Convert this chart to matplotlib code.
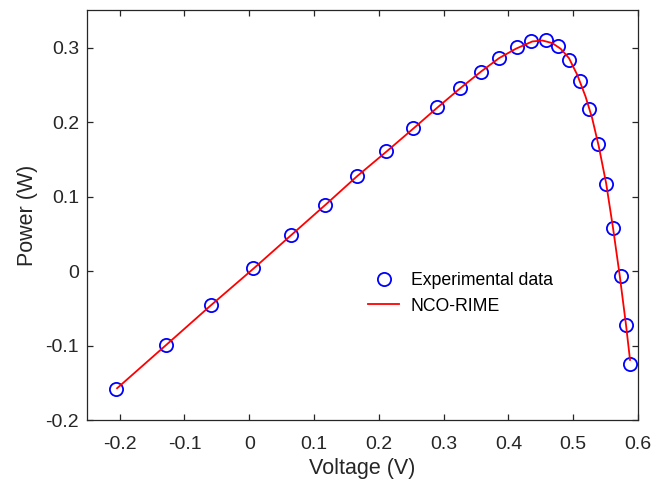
import matplotlib
matplotlib.use("Agg")
import matplotlib.pyplot as plt

plt.rcParams['font.family'] = ['Liberation Sans', 'DejaVu Sans']

# Experimental data
v_exp = [-0.2055, -0.129, -0.0589, 0.0052, 0.0642, 0.1175, 0.1665, 0.2118, 0.2534,
         0.2905, 0.3257, 0.358, 0.3862, 0.4129, 0.4354, 0.4575, 0.4765, 0.4938,
         0.5098, 0.5246, 0.5375, 0.5503, 0.5611, 0.5734, 0.5811, 0.5883]
p_exp = [-0.1576, -0.099, -0.0452, 0.004, 0.0491, 0.0894, 0.1278, 0.1612, 0.1920,
         0.2205, 0.2458, 0.2678, 0.2859, 0.3011, 0.3087, 0.3105, 0.3024, 0.2836,
         0.2554, 0.2174, 0.1705, 0.1172, 0.0577, -0.0063, -0.0725, -0.1240]

# NCO-RIME model curve
v_mod = [-0.2040, -0.129, -0.0589, 0.0052, 0.0642, 0.1175, 0.1665, 0.2118, 0.2534,
         0.2903, 0.3257, 0.358, 0.3857, 0.4114, 0.4369, 0.4523, 0.4677, 0.4806,
         0.4934, 0.5062, 0.519, 0.5292, 0.5395, 0.5508, 0.5615, 0.5718, 0.5815, 0.5877]
p_mod = [-0.1570, -0.0995, -0.0455, 0.0025, 0.0480, 0.0890, 0.1275, 0.1605, 0.1915,
         0.2195, 0.2455, 0.2680, 0.2859, 0.2984, 0.3082, 0.3095, 0.3060, 0.2984,
         0.2859, 0.2635, 0.2344, 0.2054, 0.1673, 0.1181, 0.0577, -0.0059, -0.0721, -0.1190]

xticks = [-0.2, -0.1, 0, 0.1, 0.2, 0.3, 0.4, 0.5, 0.6]
xticklabels = ['-0.2', '-0.1', '0', '0.1', '0.2', '0.3', '0.4', '0.5', '0.6']
yticks = [-0.2, -0.1, 0, 0.1, 0.2, 0.3]
yticklabels = ['-0.2', '-0.1', '0', '0.1', '0.2', '0.3']

fig = plt.figure(figsize=(6.64, 4.82), dpi=100)
L, R, T, B = 87.3, 638.0, 10.3, 420.3
ax = fig.add_axes([L/664, 1-B/482, (R-L)/664, (B-T)/482])

ax.plot(v_exp, p_exp, linestyle='none', marker='o', markersize=9.5,
        markerfacecolor='none', markeredgecolor='#0000ff', markeredgewidth=1.3,
        label='Experimental data', zorder=2)
ax.plot(v_mod, p_mod, color='#ff0000', linewidth=1.3, label='NCO-RIME', zorder=3)

ax.set_xlim(-0.25, 0.6)
ax.set_ylim(-0.2, 0.35)
ax.set_xticks(xticks)
ax.set_xticklabels(xticklabels)
ax.set_yticks(yticks)
ax.set_yticklabels(yticklabels)

c = '#262626'
for s in ax.spines.values():
    s.set_color(c)
    s.set_linewidth(0.9)
ax.tick_params(direction='in', length=4, width=0.9, color=c, labelcolor=c,
               labelsize=14, top=True, right=True)
ax.tick_params(axis='x', pad=11)
ax.tick_params(axis='y', pad=6)

ax.set_xlabel('Voltage (V)', fontsize=15.5, color=c, labelpad=4)
ax.set_ylabel('Power (W)', fontsize=15.5, color=c, labelpad=5)

lx = (368 - L) / (R - L)
ly = (B - 293.5) / (B - T)
leg = ax.legend(loc='center left', bbox_to_anchor=(lx, ly), frameon=False,
                fontsize=12.7, handlelength=1.76, handletextpad=0.66,
                labelspacing=0.47, borderpad=0, borderaxespad=0)
for t in leg.get_texts():
    t.set_color('#000000')

fig.savefig('out.png', dpi=100)
